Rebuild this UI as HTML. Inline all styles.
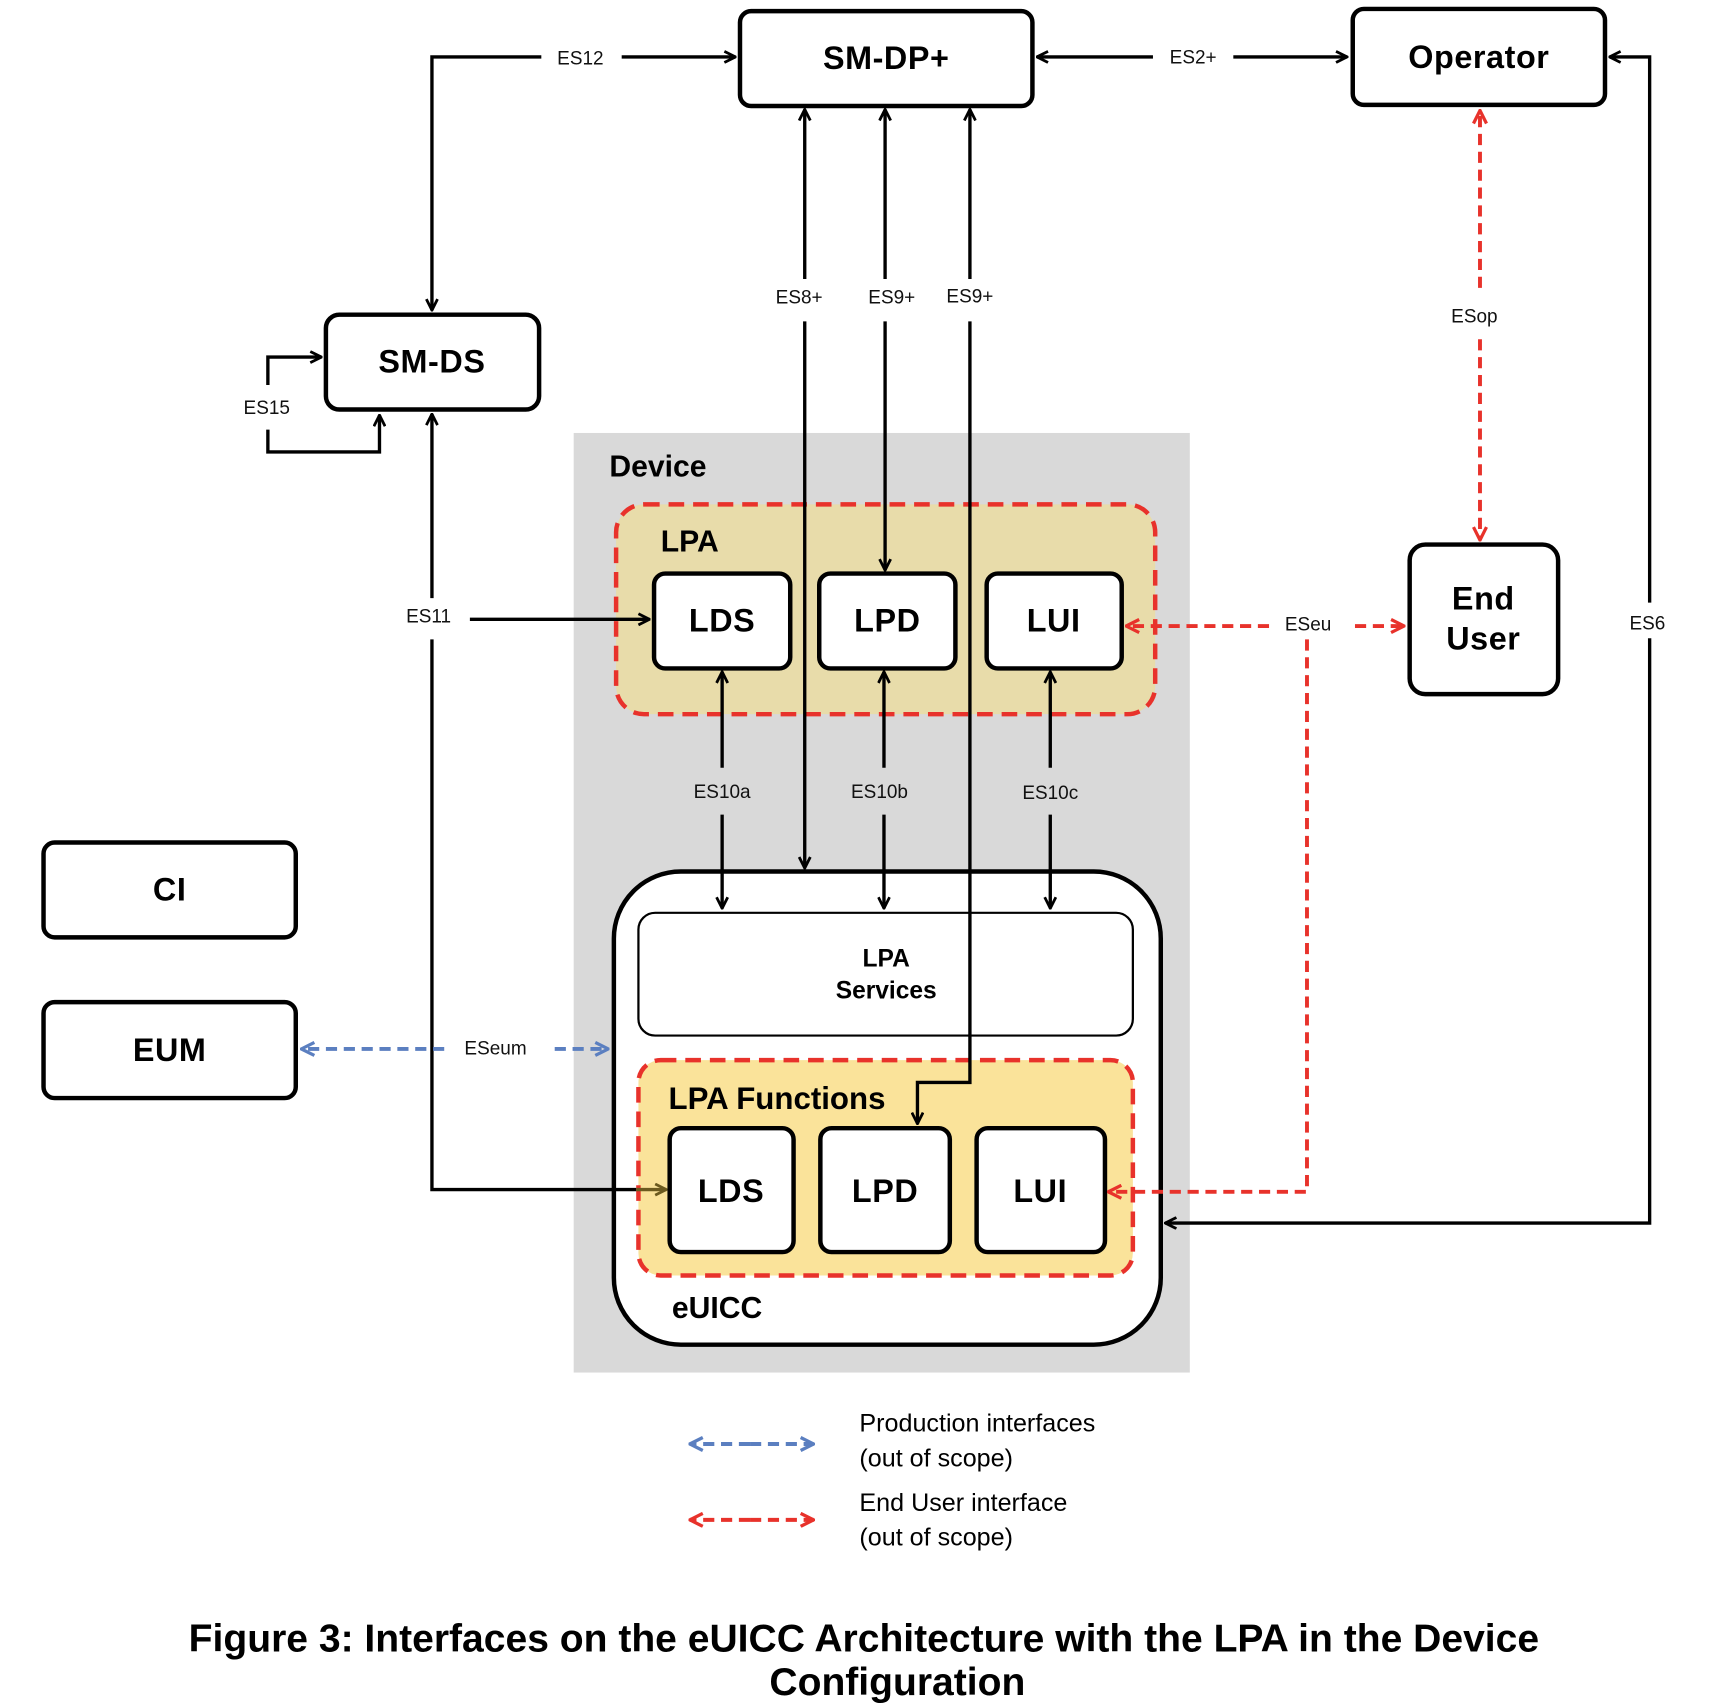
<!DOCTYPE html>
<html><head><meta charset="utf-8"><style>
html,body{margin:0;padding:0;background:#fff}
svg{display:block}
text{font-family:"Liberation Sans",sans-serif}
.b{font-weight:bold;font-size:29px;text-anchor:middle;letter-spacing:0.5px}
.l{font-size:17px;text-anchor:middle;fill:#111}
</style></head><body>
<svg width="1730" height="1704" viewBox="0 0 1550 1527" preserveAspectRatio="none" xmlns="http://www.w3.org/2000/svg">
<defs>
<marker id="a" viewBox="0 0 12 12" refX="11" refY="6" markerWidth="12" markerHeight="12" markerUnits="userSpaceOnUse" orient="auto-start-reverse"><path d="M1,1 L11,6 L1,11" fill="none" stroke="#000" stroke-width="2.5"/></marker>
<marker id="r" viewBox="0 0 12 12" refX="11" refY="6" markerWidth="14" markerHeight="14" markerUnits="userSpaceOnUse" orient="auto-start-reverse"><path d="M1,1 L11,6 L1,11" fill="none" stroke="#e8322b" stroke-width="2.5"/></marker>
<marker id="u" viewBox="0 0 12 12" refX="11" refY="6" markerWidth="14" markerHeight="14" markerUnits="userSpaceOnUse" orient="auto-start-reverse"><path d="M1,1 L11,6 L1,11" fill="none" stroke="#5b7fc0" stroke-width="2.5"/></marker>
<marker id="o" viewBox="0 0 12 12" refX="11" refY="6" markerWidth="12" markerHeight="12" markerUnits="userSpaceOnUse" orient="auto"><path d="M1,1 L11,6 L1,11" fill="none" stroke="#6b5a1e" stroke-width="2.5"/></marker>
</defs>
<rect x="514" y="388" width="552" height="842" fill="#d9d9d9"/>
<text x="546" y="427" font-size="27" font-weight="bold">Device</text>
<rect x="552" y="452" width="483" height="188" rx="25" fill="#e8dcaa" stroke="#e8322b" stroke-width="4" stroke-dasharray="14,8"/>
<text x="592" y="494" font-size="27" font-weight="bold">LPA</text>
<rect x="550" y="781" width="490" height="424" rx="60" fill="#fff" stroke="#000" stroke-width="4"/>
<rect x="572" y="818" width="443" height="110" rx="15" fill="#fff" stroke="#000" stroke-width="2"/>
<text x="794" y="866" font-size="22" font-weight="bold" text-anchor="middle">LPA</text>
<text x="794" y="895" font-size="22" font-weight="bold" text-anchor="middle">Services</text>
<rect x="572" y="950" width="443" height="193" rx="20" fill="#fae39a" stroke="#e8322b" stroke-width="4" stroke-dasharray="14,8"/>
<text x="599" y="994" font-size="28" font-weight="bold">LPA Functions</text>
<text x="602" y="1181" font-size="27" font-weight="bold">eUICC</text>
<g fill="#fff" stroke="#000" stroke-width="4">
<rect x="663" y="10" width="262" height="85" rx="10"/>
<rect x="1212" y="8" width="226" height="86" rx="10"/>
<rect x="292" y="282" width="191" height="85" rx="12"/>
<rect x="39" y="755" width="226" height="85" rx="10"/>
<rect x="39" y="898" width="226" height="86" rx="10"/>
<rect x="1263" y="488" width="133" height="134" rx="14"/>
<rect x="586" y="514" width="122" height="85" rx="10"/>
<rect x="734" y="514" width="122" height="85" rx="10"/>
<rect x="884" y="514" width="121" height="85" rx="10"/>
<rect x="600" y="1011" width="111" height="111" rx="10"/>
<rect x="735" y="1011" width="116" height="111" rx="10"/>
<rect x="875" y="1011" width="115" height="111" rx="10"/>
</g>
<text class="b" x="794" y="62">SM-DP+</text>
<text class="b" x="1325" y="61">Operator</text>
<text class="b" x="387" y="334">SM-DS</text>
<text class="b" x="152" y="807">CI</text>
<text class="b" x="152" y="951">EUM</text>
<text class="b" x="1329" y="546">End</text>
<text class="b" x="1329" y="582">User</text>
<text class="b" x="647" y="566">LDS</text>
<text class="b" x="795" y="566">LPD</text>
<text class="b" x="944" y="566">LUI</text>
<text class="b" x="655" y="1077">LDS</text>
<text class="b" x="793" y="1077">LPD</text>
<text class="b" x="932" y="1077">LUI</text>
<g fill="none" stroke="#000" stroke-width="3">
<path d="M485,51 H387 V278" marker-end="url(#a)"/>
<path d="M557,51 H659" marker-end="url(#a)"/>
<path d="M1033,51 H929" marker-end="url(#a)"/>
<path d="M1105,51 H1207" marker-end="url(#a)"/>
<path d="M1478,540 V51 H1442" marker-end="url(#a)"/>
<path d="M1478,572 V1096 H1044" marker-end="url(#a)"/>
<path d="M721,250 V98" marker-end="url(#a)"/>
<path d="M721,288 V778" marker-end="url(#a)"/>
<path d="M793,250 V98" marker-end="url(#a)"/>
<path d="M793,288 V511" marker-end="url(#a)"/>
<path d="M869,250 V98" marker-end="url(#a)"/>
<path d="M869,288 V970 H822 V1007" marker-end="url(#a)"/>
<path d="M647,688 V602" marker-end="url(#a)"/><path d="M647,730 V814" marker-end="url(#a)"/>
<path d="M792,688 V602" marker-end="url(#a)"/><path d="M792,730 V814" marker-end="url(#a)"/>
<path d="M941,688 V602" marker-end="url(#a)"/><path d="M941,730 V814" marker-end="url(#a)"/>
<path d="M387,536 V371" marker-end="url(#a)"/>
<path d="M421,555 H582" marker-end="url(#a)"/>
<path d="M387,573 V1066 H570"/>
<path d="M240,345 V320 H288" marker-end="url(#a)"/>
<path d="M240,385 V405 H340 V372" marker-end="url(#a)"/>
</g>
<path d="M570,1066 H597" stroke="#6b5a1e" stroke-width="3" marker-end="url(#o)"/>
<g fill="none" stroke="#e8322b" stroke-width="3.5" stroke-dasharray="10,6">
<path d="M1326,258 V99" marker-end="url(#r)"/>
<path d="M1326,304 V484" marker-end="url(#r)"/>
<path d="M1137,561 H1009" marker-end="url(#r)"/>
<path d="M1214,561 H1258" marker-end="url(#r)"/>
<path d="M1171,573 V1068 H993" marker-end="url(#r)"/>
<path d="M672,1362 H618" marker-end="url(#r)"/>
<path d="M672,1362 H729" marker-end="url(#r)"/>
</g>
<g fill="none" stroke="#5b7fc0" stroke-width="3.5" stroke-dasharray="10,6">
<path d="M398,940 H270" marker-end="url(#u)"/>
<path d="M497,940 H545" marker-end="url(#u)"/>
<path d="M672,1294 H618" marker-end="url(#u)"/>
<path d="M672,1294 H729" marker-end="url(#u)"/>
</g>
<text class="l" x="520" y="58">ES12</text>
<text class="l" x="1069" y="57">ES2+</text>
<text class="l" x="1476" y="564">ES6</text>
<text class="l" x="716" y="272">ES8+</text>
<text class="l" x="799" y="272">ES9+</text>
<text class="l" x="869" y="271">ES9+</text>
<text class="l" x="647" y="715">ES10a</text>
<text class="l" x="788" y="715">ES10b</text>
<text class="l" x="941" y="716">ES10c</text>
<text class="l" x="384" y="558">ES11</text>
<text class="l" x="239" y="371">ES15</text>
<text class="l" x="1321" y="289">ESop</text>
<text class="l" x="1172" y="565">ESeu</text>
<text class="l" x="444" y="945">ESeum</text>
<text x="770" y="1283" font-size="22.5">Production interfaces</text>
<text x="770" y="1314" font-size="22.5">(out of scope)</text>
<text x="770" y="1354" font-size="22.5">End User interface</text>
<text x="770" y="1385" font-size="22.5">(out of scope)</text>
<text x="774" y="1480" font-size="35" font-weight="bold" text-anchor="middle">Figure 3: Interfaces on the eUICC Architecture with the LPA in the Device</text>
<text x="804" y="1519" font-size="35" font-weight="bold" text-anchor="middle">Configuration</text>
</svg>
</body></html>
